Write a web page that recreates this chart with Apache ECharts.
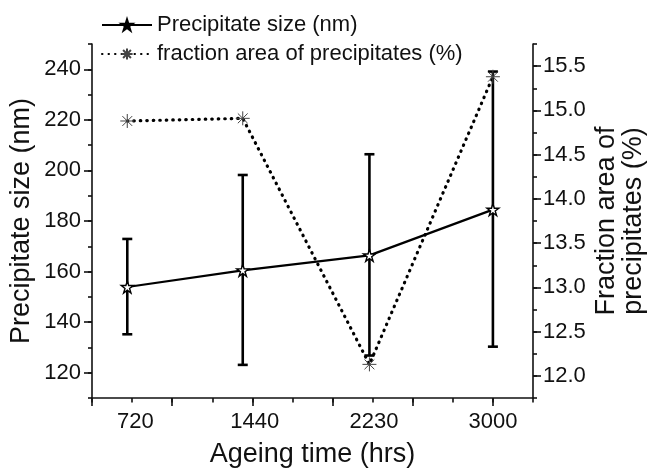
<!DOCTYPE html>
<html>
<head>
<meta charset="utf-8">
<script src="https://cdn.jsdelivr.net/npm/echarts@6/dist/echarts.min.js"></script>
<style>
  html, body { margin: 0; padding: 0; background: #fff; }
  #chart { width: 655px; height: 473px; }
</style>
</head>
<body>
<div id="chart"></div>
<script>
// ageing time (hrs)
var times = [720, 1440, 2230, 3000];
// precipitate size (nm) with error bar ends
var sizeMean = [153.9, 160.5, 166.4, 184.5];
var sizeHigh = [172.9, 198.2, 206.4, 239.1];
var sizeLow = [135.2, 123.1, 126.8, 130.3];
// fraction area of precipitates (%)
var fraction = [14.88, 14.91, 12.13, 15.38];

// tick labels
var xLabelText = ['720', '1440', '2230', '3000'];
var xLabelAt = [770, 1515, 2258, 3000]; // where the labels sit on the axis
var xMajorTicks = [500, 1000, 1500, 2000, 2500, 3000];
var leftTicks = [120, 140, 160, 180, 200, 220, 240];
var rightTicks = [12.0, 12.5, 13.0, 13.5, 14.0, 14.5, 15.0, 15.5];

var FONT = '"Liberation Sans", Arial, sans-serif';
var INK = '#111';
var STAR = 'path://M50,0 L61.8,36.2 L100,36.2 L69.1,58.6 L80.9,95 L50,72.6 L19.1,95 L30.9,58.6 L0,36.2 L38.2,36.2 Z';
var ASTER = 'path://M0,50 L100,50 M50,0 L50,100 M15,15 L85,85 M85,15 L15,85';

var chart = echarts.init(document.getElementById('chart'));

var axisLine = { show: true, lineStyle: { color: INK, width: 1.6 } };

function zip(a, b) {
  return a.map(function (v, i) { return [v, b[i]]; });
}

chart.setOption({
  animation: false,
  backgroundColor: '#fff',
  textStyle: { fontFamily: FONT, color: INK },
  grid: { left: 92, right: 119, top: 44, bottom: 72 },
  legend: {
    orient: 'vertical',
    left: 101,
    top: 14,
    padding: 0,
    itemWidth: 50,
    itemHeight: 14,
    itemGap: 7,
    textStyle: { fontFamily: FONT, fontSize: 22, color: INK },
    data: [
      { name: 'Precipitate size (nm)', itemStyle: { color: '#000', borderColor: '#000' } },
      { name: 'fraction area of precipitates (%)' }
    ]
  },
  xAxis: [
    {
      type: 'value', min: 500, max: 3250, interval: 250,
      axisLine: axisLine,
      axisTick: { show: true, length: 4.5, lineStyle: { color: INK, width: 1.6 } },
      axisLabel: { show: false },
      splitLine: { show: false },
      name: 'Ageing time (hrs)',
      nameLocation: 'middle',
      nameGap: 43,
      nameTextStyle: { fontFamily: FONT, fontSize: 27, color: INK }
    },
    {
      type: 'value', min: 500, max: 3250, position: 'bottom', offset: 0,
      axisLine: { show: false },
      axisTick: { show: true, length: 8, customValues: xMajorTicks, lineStyle: { color: INK, width: 1.6 } },
      axisLabel: {
        show: true, margin: 13, fontFamily: FONT, fontSize: 22, color: INK,
        customValues: xLabelAt,
        formatter: function (v) {
          var i = xLabelAt.indexOf(v);
          return i >= 0 ? xLabelText[i] : '';
        }
      },
      splitLine: { show: false }
    }
  ],
  yAxis: [
    {
      type: 'value', position: 'left', min: 110, max: 250, interval: 10,
      axisLine: axisLine,
      axisTick: { show: true, length: 4, lineStyle: { color: INK, width: 1.6 } },
      axisLabel: { show: false },
      splitLine: { show: false },
      name: 'Precipitate size (nm)',
      nameLocation: 'middle',
      nameRotate: 90,
      nameGap: 57,
      nameTextStyle: { fontFamily: FONT, fontSize: 27, color: INK }
    },
    {
      type: 'value', position: 'left', offset: 0, min: 110, max: 250,
      axisLine: { show: false },
      axisTick: { show: true, length: 8, customValues: leftTicks, lineStyle: { color: INK, width: 1.6 } },
      axisLabel: { show: true, margin: 11, fontFamily: FONT, fontSize: 22, color: INK, customValues: leftTicks },
      splitLine: { show: false }
    },
    {
      type: 'value', position: 'right', min: 11.75, max: 15.75, interval: 0.25,
      axisLine: axisLine,
      axisTick: { show: true, length: 4, lineStyle: { color: INK, width: 1.6 } },
      axisLabel: { show: false },
      splitLine: { show: false },
      name: 'Fraction area of\nprecipitates (%)',
      nameLocation: 'middle',
      nameRotate: 90,
      nameGap: 60,
      nameTextStyle: { fontFamily: FONT, fontSize: 27, color: INK, lineHeight: 27 }
    },
    {
      type: 'value', position: 'right', offset: 0, min: 11.75, max: 15.75,
      axisLine: { show: false },
      axisTick: { show: true, length: 8, customValues: rightTicks, lineStyle: { color: INK, width: 1.6 } },
      axisLabel: {
        show: true, margin: 10, fontFamily: FONT, fontSize: 22, color: INK,
        customValues: rightTicks,
        formatter: function (v) { return v.toFixed(1); }
      },
      splitLine: { show: false }
    }
  ],
  series: [
    {
      name: 'size error',
      type: 'custom',
      xAxisIndex: 0,
      yAxisIndex: 0,
      data: times.map(function (t, i) { return [t, sizeLow[i], sizeHigh[i]]; }),
      renderItem: function (params, api) {
        var lo = api.coord([api.value(0), api.value(1)]);
        var hi = api.coord([api.value(0), api.value(2)]);
        var w = 5;
        var st = { stroke: '#000', lineWidth: 2.6 };
        return {
          type: 'group',
          children: [
            { type: 'line', shape: { x1: hi[0], y1: hi[1], x2: lo[0], y2: lo[1] }, style: st },
            { type: 'line', shape: { x1: hi[0] - w, y1: hi[1], x2: hi[0] + w, y2: hi[1] }, style: st },
            { type: 'line', shape: { x1: lo[0] - w, y1: lo[1], x2: lo[0] + w, y2: lo[1] }, style: st }
          ]
        };
      },
      z: 1
    },
    {
      name: 'Precipitate size (nm)',
      type: 'line',
      xAxisIndex: 0,
      yAxisIndex: 0,
      data: zip(times, sizeMean),
      symbol: STAR,
      symbolSize: 12,
      lineStyle: { color: '#000', width: 2.2 },
      itemStyle: { color: '#fff', borderColor: '#000', borderWidth: 1.4 },
      z: 3
    },
    {
      name: 'fraction area of precipitates (%)',
      type: 'line',
      xAxisIndex: 0,
      yAxisIndex: 2,
      data: zip(times, fraction),
      symbol: ASTER,
      symbolSize: 14,
      lineStyle: { color: '#000', width: 3.2, type: [0.5, 6], cap: 'round' },
      itemStyle: { color: 'rgba(0,0,0,0)', borderColor: '#444', borderWidth: 1 },
      z: 2
    }
  ]
});
</script>
</body>
</html>
